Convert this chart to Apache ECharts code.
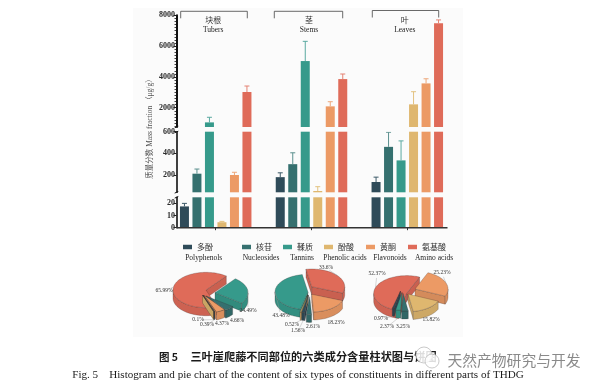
<!DOCTYPE html>
<html>
<head>
<meta charset="utf-8">
<style>html,body{margin:0;padding:0;background:#fff}#c{width:600px;height:389px;filter:blur(0.4px)}</style>
<script src="https://cdn.jsdelivr.net/npm/echarts@6/dist/echarts.min.js"></script>
</head>
<body>
<div id="c"></div>
<script>
// ---- data ----
const partsZh = ['块根', '茎', '叶'];
const partsEn = ['Tubers', 'Stems', 'Leaves'];
const classZh = ['多酚', '核苷', '鞣质', '酚酸', '黄酮', '氨基酸'];
const classEn = ['Polyphenols', 'Nucleosides', 'Tannins', 'Phenolic acids', 'Flavonoids', 'Amino acids'];
const polyphenols = [17.5, 180, 135];
const nucleosides = [212, 300, 460];
const tannins = [1050, 5030, 335];
const phenolicAcids = [4.5, 52, 2220];
const flavonoids = [200, 2090, 3580];
const aminoAcids = [3020, 3860, 7480];
const polyphenolsErr = [20, 220, 180];
const nucleosidesErr = [255, 405, 595];
const tanninsErr = [1380, 6310, 515];
const phenolicAcidsErr = [5.2, 92, 3040];
const flavonoidsErr = [225, 2390, 3880];
const aminoAcidsErr = [3410, 4190, 7700];
const pieTubers = [65.99, 24.49, 4.66, 4.37, 0.39, 0.1];
const pieStems = [33.6, 18.23, 2.61, 1.56, 0.52, 43.48];
const pieLeaves = [52.37, 25.23, 15.82, 3.25, 2.37, 0.97];
const ticksUpper = [2000, 4000, 6000, 8000];
const ticksMiddle = [200, 400, 600];
const ticksLower = [0, 10, 20];

// ---- styling and layout ----
const values = [polyphenols, nucleosides, tannins, phenolicAcids, flavonoids, aminoAcids];
const errs = [polyphenolsErr, nucleosidesErr, tanninsErr, phenolicAcidsErr, flavonoidsErr, aminoAcidsErr];
const colors = ['#2f4b59', '#35706f', '#369a8b', '#dfb76f', '#ec9a65', '#df6b59'];
const errColors = ['#3d5a68', '#5a8f8e', '#5aa9a0', '#e3c27f', '#eda77a', '#e48272'];
const serif = '"Liberation Serif", serif';
const cjk = '"Noto Sans CJK SC", sans-serif';
const ink = '#2a2a2a';

const panels = [
  {top: 15.3, bottom: 127, min: 750, max: 8000, ticks: ticksUpper, w: 2},
  {top: 131.7, bottom: 192.3, min: 40, max: 600, ticks: ticksMiddle, w: 1.6},
  {top: 197.3, bottom: 227.7, min: 0, max: 25, ticks: ticksLower, w: 1.6}
];
const gridLeft = 167.8, gridWidth = 287.4, axisX = 176.5, barStep = 12.5;

const grid = panels.map(p => ({left: gridLeft, width: gridWidth, top: p.top, height: p.bottom - p.top}));
const xAxis = panels.map((p, i) => ({
  type: 'category', gridIndex: i, data: partsZh, position: i === 0 ? 'top' : 'bottom',
  axisLine: {show: false},
  axisTick: {show: i === 2, alignWithLabel: true, length: 2.5, lineStyle: {color: '#333', width: 1}},
  axisLabel: i === 0 ? {
    show: true, inside: true, margin: 0, padding: [0, 5, 0, 0],
    formatter: (v, k) => '{a|' + v + '}\n{b|' + partsEn[k] + '}',
    rich: {
      a: {fontFamily: cjk, fontSize: 8, color: '#333', lineHeight: 9.5, align: 'center'},
      b: {fontFamily: serif, fontSize: 7.5, color: '#222', lineHeight: 9.5, align: 'center'}
    }
  } : {show: false}
}));
const yAxis = panels.map((p, i) => ({
  type: 'value', gridIndex: i, min: p.min, max: p.max, position: 'left', offset: gridLeft - axisX,
  splitLine: {show: false},
  axisLine: {show: true, onZero: false, lineStyle: {color: '#111', width: p.w}},
  axisTick: {show: true, length: 3, customValues: p.ticks, lineStyle: {color: '#222', width: 1}},
  axisLabel: {customValues: p.ticks, margin: 1.5, fontFamily: serif, fontWeight: 'bold', fontSize: 8, color: ink, formatter: v => String(v)}
}));
const minorTicks = [];
for (let v = 800; v <= 8000; v += 200) minorTicks.push(v);
yAxis.push({
  type: 'value', gridIndex: 0, min: panels[0].min, max: panels[0].max, position: 'left', offset: gridLeft - axisX,
  splitLine: {show: false}, axisLine: {show: false}, axisLabel: {show: false},
  axisTick: {show: true, length: 2, customValues: minorTicks, lineStyle: {color: '#111', width: 0.8}}
});

const series = [];
panels.forEach((p, pi) => {
  values.forEach((vals, ci) => {
    series.push({
      type: 'bar', name: classZh[ci], xAxisIndex: pi, yAxisIndex: pi,
      barWidth: 9, barGap: '38.9%', silent: true, animation: false,
      itemStyle: {color: colors[ci]},
      data: vals.map(v => v > p.min ? v : null)
    });
  });
  values.forEach((vals, ci) => {
    series.push({
      type: 'custom', xAxisIndex: pi, yAxisIndex: pi, clip: true, silent: true, animation: false, z: 3,
      encode: {x: 0, y: [1, 2]},
      data: vals.map((v, k) => [k, v, errs[ci][k]]).filter(d => d[1] > p.min && d[1] < p.max),
      renderItem: (params, api) => {
        const base = api.coord([api.value(0), api.value(1)]);
        const top = api.coord([api.value(0), api.value(2)]);
        const x = base[0] + (ci - 2.5) * barStep;
        const st = {stroke: errColors[ci], lineWidth: 1, fill: null};
        return {type: 'group', children: [
          {type: 'line', shape: {x1: x, y1: base[1], x2: x, y2: top[1]}, style: st},
          {type: 'line', shape: {x1: x - 2.5, y1: top[1], x2: x + 2.5, y2: top[1]}, style: st}
        ]};
      }
    });
  });
});

// ---- exploded tilted pies, built from the percentage lists ----
const RX = 33, RY = 17.7, DEPTH = 8;
function shade(hex, f) {
  const n = parseInt(hex.slice(1), 16);
  const c = [n >> 16, (n >> 8) & 255, n & 255].map(x => Math.round(x * f));
  return 'rgb(' + c.join(',') + ')';
}
const pies = [
  {vals: pieTubers, start: 52, order: [1, 2, 3, 4, 5, 0], col: [5, 2, 1, 4, 0, 3],
   apex: [[206, 290], [215, 292.7], [206, 296], [204.5, 295.5], [203, 295], [202.5, 295]],
   labels: [[164, 291], [248, 311], [237, 321], [222, 324], [207, 325], [198, 320]]},
  {vals: pieStems, start: 100, order: [0, 1, 2, 3, 4, 5], col: [5, 4, 1, 0, 3, 2],
   apex: [[311.7, 286.7], [311.7, 294.3], [309.7, 296.7], [308.3, 295], [307.7, 295], [308, 292]],
   labels: [[326, 268], [336, 323], [313, 327], [298, 331], [292, 325], [281, 316]]},
  {vals: pieLeaves, start: 67, order: [1, 2, 3, 4, 5, 0], col: [5, 4, 3, 1, 2, 0],
   apex: [[406.7, 293.3], [415, 289], [408, 294], [403, 293.3], [402, 292.5], [400.5, 291]],
   labels: [[377, 274], [442, 273], [431, 320], [403, 327], [387, 327], [381, 319]]}
];
pies.forEach(pie => {
  const total = pie.vals.reduce((a, b) => a + b, 0);
  const ang = {};
  let a = pie.start;
  pie.order.forEach(idx => {
    const sweep = pie.vals[idx] / total * 360;
    ang[idx] = [a, a - sweep];
    a -= sweep;
  });
  series.push({
    type: 'custom', coordinateSystem: 'none', silent: true, animation: false, z: 4,
    data: pie.vals.map((v, i) => [v, i]),
    renderItem: (params, api) => {
      const i = api.value(1), [a0, a1] = ang[i], [cx, cy] = pie.apex[i];
      const color = colors[pie.col[i]];
      const mid = (a0 + a1) / 2 * Math.PI / 180;
      const z = Math.round(100 - Math.sin(mid) * 50);
      const rad = d => d * Math.PI / 180;
      const pt = deg => [cx + RX * Math.cos(rad(deg)), cy - RY * Math.sin(rad(deg))];
      const arc = [];
      const steps = Math.max(2, Math.ceil((a0 - a1) / 3));
      for (let s = 0; s <= steps; s++) arc.push(a0 + (a1 - a0) * s / steps);
      const down = p => [p[0], p[1] + DEPTH];
      const edge = {stroke: 'rgba(50,40,40,0.6)', lineWidth: 0.4};
      const children = [];
      // only the cut faces that turn toward the viewer are drawn
      const faces = [];
      if (Math.cos(rad(a0)) < 0) faces.push(a0);
      if (Math.cos(rad(a1)) > 0) faces.push(a1);
      faces.forEach(d => {
        const r = pt(d);
        children.push({type: 'polygon', z2: z, shape: {points: [[cx, cy], r, down(r), down([cx, cy])]},
          style: Object.assign({fill: shade(color, 0.9)}, edge)});
      });
      const vis = arc.filter(d => Math.sin(rad(d)) <= 0.02);
      if (vis.length > 1) {
        const top = vis.map(pt);
        children.push({type: 'polygon', z2: z + 1, shape: {points: top.concat(top.slice().reverse().map(down))},
          style: Object.assign({fill: shade(color, 0.92)}, edge)});
      }
      children.push({type: 'polygon', z2: z + 2, shape: {points: [[cx, cy]].concat(arc.map(pt))},
        style: Object.assign({fill: color}, edge)});
      const [lx, ly] = pie.labels[i];
      const rim = pt((a0 + a1) / 2);
      const rimY = rim[1] + (Math.sin(mid) < 0 ? DEPTH : 0);
      const dist = Math.hypot(lx - rim[0], ly - rimY);
      if (dist > 9) {
        const k = (dist - 4) / dist;
        children.push({type: 'line', z2: 300, shape: {x1: rim[0], y1: rimY, x2: rim[0] + (lx - rim[0]) * k, y2: rimY + (ly - rimY) * k},
          style: {stroke: '#999', lineWidth: 0.4}});
      }
      children.push({type: 'text', z2: 301, x: lx, y: ly,
        style: {text: api.value(0) + '%', fontFamily: serif, fontSize: 5.5, fill: '#333', align: 'center', verticalAlign: 'middle'}});
      return {type: 'group', children};
    }
  });
});

// ---- legend: one small legend per class, at the spacing of the picture ----
const legendLeft = [183, 242, 283, 324, 366, 408];
const legend = classZh.map((n, i) => ({
  data: [n], left: legendLeft[i], top: 243, orient: 'horizontal', icon: 'rect',
  itemWidth: 9, itemHeight: 4.5, itemGap: 0, padding: 0, selectedMode: false,
  textStyle: {fontFamily: cjk, fontSize: 8, color: '#333', padding: [0, 0, 0, 0]}
}));
const legendEnX = [203.7, 261, 302, 345, 390, 434];

// ---- decoration drawn around the axes ----
const graphic = [];
const L = (x1, y1, x2, y2, stroke, lineWidth, z) => graphic.push({type: 'line', z: z || 5, silent: true, shape: {x1, y1, x2, y2}, style: {stroke, lineWidth}});
const T = (x, y, text, font, size, fill, extra) => graphic.push(Object.assign({type: 'text', z: 6, silent: true, x, y,
  style: {text, fontFamily: font, fontSize: size, fill, align: 'center', verticalAlign: 'middle'}}, extra || {}));
graphic.push({type: 'rect', z: -10, silent: true, shape: {x: 133, y: 8, width: 330, height: 329}, style: {fill: '#fbfbfb'}});
L(axisX, 227.7, 447.5, 227.7, '#333', 1.4);
[[180.7, 247.3], [274.3, 342.7], [372.3, 438.7]].forEach(([a, b], i) => {
  const y = i === 2 ? 10.5 : 11.3;
  graphic.push({type: 'polyline', z: 5, silent: true, shape: {points: [[a, y + 7], [a, y], [b, y], [b, y + 7]]},
    style: {stroke: '#444', lineWidth: 0.8, fill: null}});
});
[[127, 132], [192.3, 197.3]].forEach(([a, b]) => {
  L(axisX - 1.8, a + 0.8, axisX + 1.8, a - 0.8, '#111', 1);
  L(axisX - 1.8, b + 0.8, axisX + 1.8, b - 0.8, '#111', 1);
});
T(150, 127, '质量分数 Mass fraction （μg/g）', '"Liberation Serif","Noto Sans CJK SC",serif', 7.5, '#555', {rotation: Math.PI / 2});
classEn.forEach((n, i) => T(legendEnX[i], 257.7, n, serif, 7.5, '#222'));
T(168.5, 357, '图 5', cjk, 10.5, '#1a1a1a');
graphic[graphic.length - 1].style.fontWeight = 'bold';
T(313.5, 357, '三叶崖爬藤不同部位的六类成分含量柱状图与饼图', cjk, 11.2, '#1a1a1a');
graphic[graphic.length - 1].style.fontWeight = 'bold';
T(298, 375, 'Fig. 5    Histogram and pie chart of the content of six types of constituents in different parts of THDG', serif, 11.1, '#1a1a1a');
// watermark
graphic.push({type: 'circle', z: 7, silent: true, shape: {cx: 424, cy: 355, r: 8}, style: {fill: 'rgba(255,255,255,0.85)', stroke: '#bbb', lineWidth: 0.8}});
graphic.push({type: 'circle', z: 7, silent: true, shape: {cx: 432, cy: 361, r: 7}, style: {fill: 'rgba(255,255,255,0.85)', stroke: '#bbb', lineWidth: 0.8}});
T(514, 360, '天然产物研究与开发', cjk, 14.8, '#8a8a8a', {z: 7});

const chart = echarts.init(document.getElementById('c'), null, {renderer: 'canvas'});
chart.setOption({animation: false, backgroundColor: '#fff', grid, xAxis, yAxis, series, legend, graphic});
</script>
</body>
</html>
